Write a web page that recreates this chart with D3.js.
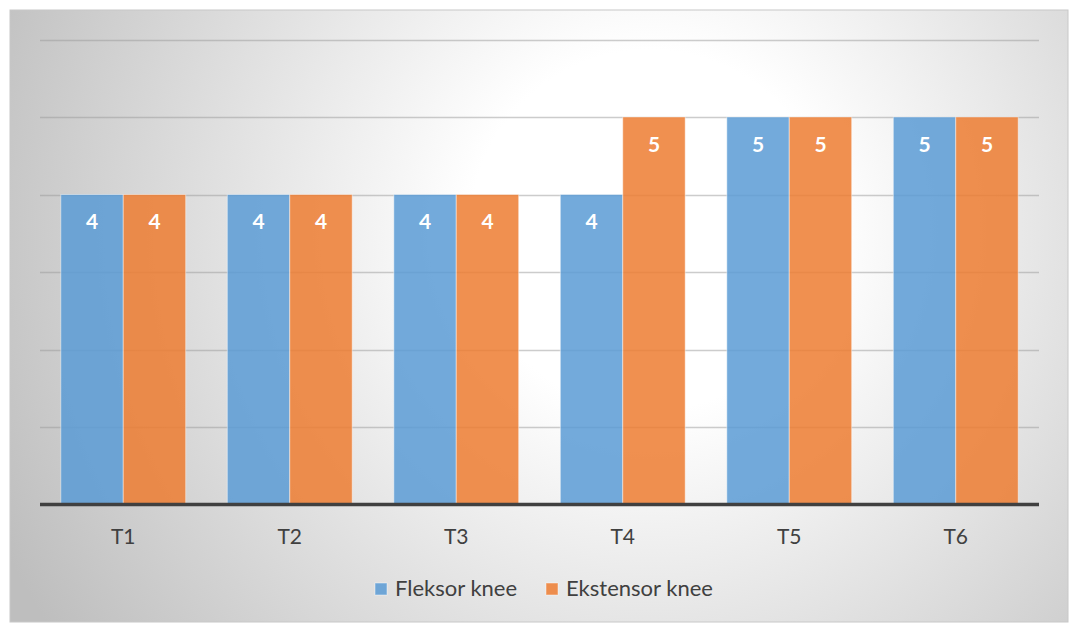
<!DOCTYPE html>
<html><head><meta charset="utf-8">
<script src="https://cdn.jsdelivr.net/npm/d3@7"></script>
<style>html,body{margin:0;padding:0;background:#fff;}svg{display:block;}</style>
</head><body>
<script>
const categories = ["T1","T2","T3","T4","T5","T6"];
const seriesNames = ["Fleksor knee","Ekstensor knee"];
const fleksor = [4,4,4,4,5,5];
const ekstensor = [4,4,4,5,5,5];
const yTicks = [0,1,2,3,4,5,6];
const colors = ["#5B9BD5","#ED7D31"];

const W=1070,H=624;
const svg=d3.select("body").append("svg").attr("width",W).attr("height",H);
const defs=svg.append("defs");
const grad=defs.append("radialGradient").attr("id","bg").attr("gradientUnits","userSpaceOnUse")
  .attr("cx",650).attr("cy",230).attr("r",720);
grad.append("stop").attr("offset","0%").attr("stop-color","#ffffff");
grad.append("stop").attr("offset","25%").attr("stop-color","#ffffff");
grad.append("stop").attr("offset","100%").attr("stop-color","#bebebe");
svg.append("rect").attr("x",10).attr("y",10).attr("width",1058).attr("height",612)
  .attr("fill","url(#bg)").attr("stroke","#c8c8c8").attr("stroke-width",1);

const x0=d3.scaleBand().domain(categories).range([40,1039]).paddingInner(0.25).paddingOuter(0.125);
const x1=d3.scaleBand().domain(seriesNames).range([0,x0.bandwidth()]);
const y=d3.scaleLinear().domain([0,6]).range([504.5,39.5]);

// gridlines
svg.append("g").selectAll("line").data(yTicks.filter(d=>d>0)).join("line")
  .attr("x1",40).attr("x2",1039).attr("y1",d=>Math.round(y(d))+0.5).attr("y2",d=>Math.round(y(d))+0.5)
  .attr("stroke","#9a9a9a").attr("stroke-opacity",0.5).attr("stroke-width",1.3);

const data=categories.map((c,i)=>({cat:c,vals:[fleksor[i],ekstensor[i]]}));
const g=svg.append("g");
data.forEach(d=>{
  d.vals.forEach((v,j)=>{
    const bx=x0(d.cat)+x1(seriesNames[j]);
    g.append("rect").attr("x",bx).attr("y",y(v)).attr("width",x1.bandwidth()).attr("height",y(0)-y(v))
      .attr("fill",colors[j]).attr("fill-opacity",0.85)
      .attr("stroke","#ffffff").attr("stroke-opacity",0.45).attr("stroke-width",1);
    g.append("text").attr("x",bx+x1.bandwidth()/2).attr("y",y(v)+34.5)
      .attr("text-anchor","middle").attr("font-family","Lato, 'Open Sans', sans-serif")
      .attr("font-weight","bold").attr("font-size",21).attr("fill","#ffffff").text(v);
  });
});

// baseline axis
const xAxis=d3.axisBottom(x0).tickSize(0).tickPadding(0);
const ax=svg.append("g").attr("transform",`translate(0,${y(0)})`).call(xAxis);
ax.select(".domain").attr("stroke","#404040").attr("stroke-width",3.5).attr("d","M40,0H1039");
ax.selectAll("text").attr("dy",null).attr("y",39).attr("font-family","Lato, 'Open Sans', sans-serif")
  .attr("font-size",21).attr("fill","#404040");

// legend
const leg=svg.append("g");
const legX=[375,546];
seriesNames.forEach((s,i)=>{
  leg.append("rect").attr("x",legX[i]).attr("y",583).attr("width",12).attr("height",12)
    .attr("fill",colors[i]).attr("fill-opacity",0.85).attr("stroke","#ffffff").attr("stroke-opacity",0.45);
  leg.append("text").attr("x",legX[i]+20).attr("y",596).attr("font-family","Lato, 'Open Sans', sans-serif")
    .attr("font-size",22).attr("fill","#404040").text(s);
});
</script>
</body></html>
